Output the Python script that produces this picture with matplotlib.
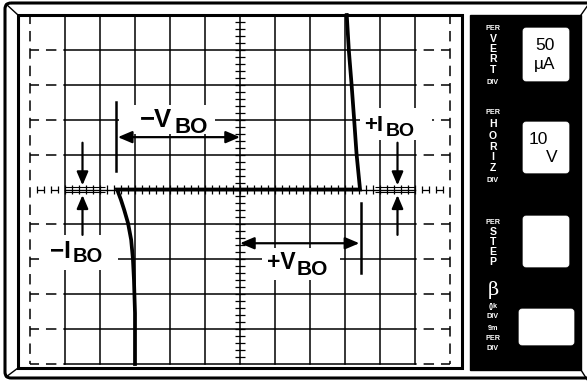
import matplotlib
matplotlib.use("Agg")
import matplotlib.pyplot as plt
import numpy as np
from matplotlib.patches import Rectangle, FancyBboxPatch, FancyArrowPatch

plt.rcParams['lines.scale_dashes'] = False
plt.rcParams['font.family'] = ['Liberation Sans', 'DejaVu Sans']

# ---------------- data ----------------
# curve-tracer trace: voltage (V) vs current (uA)
V_curve = [-30.0, -30.0, -30.3, -30.6, -31.1, -32.0, -33.1, -34.0, -35.1,
           34.3, 33.3, 32.6, 31.9, 31.1, 30.5]
I_curve = [-250, -177, -129, -99, -72, -48, -29, -15, 0,
           0, 51, 101, 149, 199, 250]
V_PER_DIV = 10          # volts per horizontal division
I_PER_DIV = 50          # microamps per vertical division
V_BO_NEG = -35.1
V_BO_POS = 34.3
I_BO_X = [-45, 45]      # where the I_BO arrows point
panel_vert = ["V", "E", "R", "T"]
panel_horiz = ["H", "O", "R", "I", "Z"]
panel_step = ["S", "T", "E", "P"]
panel_beta = ["()k", "DIV", "9m", "PER", "DIV"]
vert_value = ["50", "µA"]
horiz_value = ["10", "V"]

# ---------------- figure ----------------
W, H = 587, 381
fig = plt.figure(figsize=(W / 100, H / 100), dpi=100)
fig.patch.set_facecolor("white")
ax = fig.add_axes([0, 0, 1, 1])
ax.set_xlim(0, W)
ax.set_ylim(H, 0)
ax.axis("off")

K = "black"
# outer frame
ax.add_patch(FancyBboxPatch((5, 3), 600, 375, boxstyle="round,pad=0,rounding_size=6",
                            fc="none", ec=K, lw=2.2))
for xs, ys in [([6, 18], [4, 15]), ([6, 18], [377, 368]),
               ([581, 588], [15, 5]), ([581, 588], [370, 381])]:
    ax.plot(xs, ys, color=K, lw=1.0)
# screen bezel
ax.add_patch(Rectangle((18, 15), 444, 353, fc="none", ec=K, lw=2.2))
# right panel
ax.add_patch(Rectangle((470, 15), 111, 355, fc=K, ec=K, lw=1))
for (x0, y0, w, h) in [(523, 28, 46, 53), (523, 122, 46, 51),
                       (523, 216, 46, 51), (519, 309, 55, 36)]:
    ax.add_patch(FancyBboxPatch((x0, y0), w, h, boxstyle="round,pad=0,rounding_size=3",
                                fc="white", ec="white", lw=0.5))

PX = 493
SMALL = 5.2
BIG = 7.6
def col(letters, ys, size=BIG):
    for t, y in zip(letters, ys):
        ax.text(PX, y, t, color="white", fontsize=size, fontweight="bold",
                ha="center", va="center")

def small(t, y):
    ax.text(PX, y, t, color="white", fontsize=SMALL, fontweight="bold", ha="center", va="center")

small("PER", 28)
col(panel_vert, [39, 49, 59.5, 70])
small("DIV", 82)
small("PER", 113)
col(panel_horiz, [124, 136, 147, 157, 168])
small("DIV", 180)
small("PER", 222)
col(panel_step, [232, 242, 252, 262])
ax.text(PX, 290, "β", color="white", fontsize=14, family=["DejaVu Serif"], ha="center", va="center")
for t, y in zip(panel_beta, [307, 317, 328, 338, 349]):
    small(t, y)

ax.text(545, 46, vert_value[0], fontsize=12.5, ha="center", va="center")
ax.text(545, 64, vert_value[1], fontsize=12.5, ha="center", va="center")
ax.text(538, 139, horiz_value[0], fontsize=12.5, ha="center", va="center")
ax.text(552, 157, horiz_value[1], fontsize=12.5, ha="center", va="center")

# ---------------- screen (data axes) ----------------
X0, X1, Y0, Y1 = 30, 450, 15, 364
sc = fig.add_axes([X0 / W, 1 - Y1 / H, (X1 - X0) / W, (Y1 - Y0) / H])
sc.set_xlim(-6 * V_PER_DIV, 6 * V_PER_DIV)
sc.set_ylim(-5 * I_PER_DIV, 5 * I_PER_DIV)
sc.axis("off")
sc.patch.set_visible(False)

vmax = 5 * V_PER_DIV
imax = 5 * I_PER_DIV
GLW = 1.1
dash = (1.0, (7.5, 5.0))
for v in np.arange(-vmax, vmax + 1, V_PER_DIV):
    sc.plot([v, v], [-imax, imax], color=K, lw=GLW, clip_on=False, zorder=1)
for v in (-6 * V_PER_DIV, 6 * V_PER_DIV):
    sc.plot([v, v], [imax, -imax], color=K, lw=GLW, ls=dash, clip_on=False, zorder=1)
for i in np.arange(-imax, imax + 1, I_PER_DIV):
    if i != 0:
        sc.plot([-vmax, vmax], [i, i], color=K, lw=GLW, clip_on=False, zorder=1)
        sc.plot([-6 * V_PER_DIV, -vmax], [i, i], color=K, lw=GLW, ls=dash, clip_on=False, zorder=1)
        sc.plot([6 * V_PER_DIV, vmax], [i, i], color=K, lw=GLW, ls=dash, clip_on=False, zorder=1)

# center axes with minor ticks
sc.plot([-vmax, vmax], [0, 0], color=K, lw=1.0, zorder=2)
sc.vlines(np.arange(-vmax, vmax + 0.1, V_PER_DIV / 5), -7, 7, color=K, lw=0.9, zorder=2)
sc.hlines(np.arange(-imax, imax + 0.1, I_PER_DIV / 5), -1.3, 1.3, color=K, lw=0.9, zorder=2)
# ladders near I_BO
for s in (-1, 1):
    sc.hlines([-3, 3], s * vmax, s * 38.6, color=K, lw=0.8, zorder=2)
    ext = s * np.array([52, 54, 56, 58])
    sc.vlines(ext, -5, 5, color=K, lw=0.9, clip_on=False, zorder=2)
    sc.hlines([0, 0], [s * 52, s * 56], [s * 54, s * 58], color=K, lw=0.9, clip_on=False, zorder=2)

# the trace
sc.plot(V_curve, I_curve, color=K, lw=2.7, solid_joinstyle="miter", clip_on=False, zorder=5)

# ---------------- annotations ----------------
PT = ax.transData
for (x0, y0, x1, y1) in [(119, 105, 215, 134), (360, 108, 432, 140),
                         (45, 235, 118, 270), (262, 248, 340, 280)]:
    sc.add_patch(Rectangle((x0, y0), x1 - x0, y1 - y0, transform=PT, fc="white",
                           ec="none", zorder=3, clip_on=False))

def label(x, y, main, sub, s1, s2, xs, ys):
    sc.text(x, y, main, transform=PT, fontsize=s1, fontweight="bold",
            ha="left", va="baseline", zorder=6, clip_on=False)
    sc.text(xs, ys, sub, transform=PT, fontsize=s2, fontweight="bold",
            ha="left", va="baseline", zorder=6, clip_on=False)

label(140, 127, "−V", "BO", 18.5, 16, 175, 133)
label(267, 269, "+V", "BO", 16.5, 15, 297, 275)
label(364, 131, "+I", "BO", 16, 14, 386, 136)
label(50, 258, "−I", "BO", 17.5, 14.5, 73, 262)

# V_BO bars and double arrows
sc.plot([V_BO_NEG - 0.3, V_BO_NEG - 0.3], [27, 125], color=K, lw=1.8, zorder=6)
sc.plot([V_BO_POS + 0.3, V_BO_POS + 0.3], [-20, -120], color=K, lw=1.8, zorder=6)
for xa, xb, yy in [(V_BO_NEG + 0.2, 0, 75), (0, V_BO_POS - 0.2, -77)]:
    sc.add_patch(FancyArrowPatch((xa, yy), (xb, yy), arrowstyle="<|-|>,head_length=0.85,head_width=0.36",
                                 mutation_scale=10, color=K, lw=1.6, shrinkA=0, shrinkB=0, zorder=6))
# I_BO arrows
for xv in I_BO_X:
    sc.add_patch(FancyArrowPatch((xv, 67), (xv, 6), arrowstyle="-|>,head_length=0.8,head_width=0.34",
                                 mutation_scale=10, color=K, lw=1.6, shrinkA=0, shrinkB=0, zorder=6))
    sc.add_patch(FancyArrowPatch((xv, -65), (xv, -8), arrowstyle="-|>,head_length=0.8,head_width=0.34",
                                 mutation_scale=10, color=K, lw=1.6, shrinkA=0, shrinkB=0, zorder=6))

fig.savefig("out.png", dpi=100)
